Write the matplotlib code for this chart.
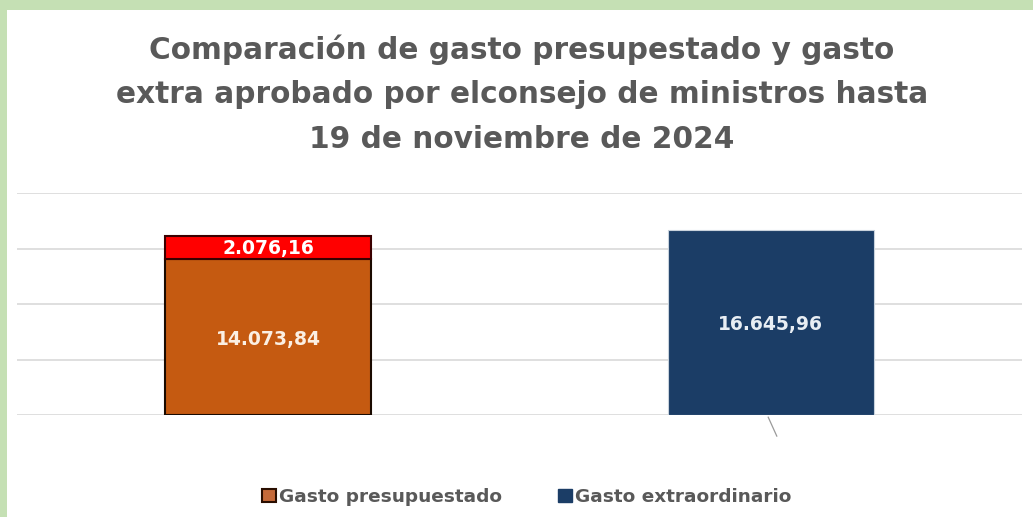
import matplotlib.pyplot as plt
from matplotlib.patches import Rectangle
from matplotlib.lines import Line2D

categorias = ["Presupuestado", "Extraordinario"]
gasto_base = [14073.84, 0]
gasto_extra_aprobado = [2076.16, 0]
gasto_extraordinario = [0, 16645.96]
etiquetas = ["14.073,84", "2.076,16", "16.645,96"]

naranja = "#C55A11"
rojo = "#FF0000"
azul = "#1B3D66"
gris = "#595959"

fig = plt.figure(figsize=(10.33, 5.17), dpi=100, facecolor="white")
# marco verde arriba y a la izquierda
verde = "#C5E0B4"
fig.patches.append(Rectangle((0, 1 - 10 / 517), 1, 10 / 517, transform=fig.transFigure,
                             facecolor=verde, edgecolor="none"))
fig.patches.append(Rectangle((0, 0), 7 / 1033, 1, transform=fig.transFigure,
                             facecolor=verde, edgecolor="none"))

ax = fig.add_axes([17 / 1033, 1 - 415 / 517, 1005 / 1033, 222 / 517])
ax.set_facecolor("none")

x = [0, 1]
ancho = 0.41
ax.bar(x[0], gasto_base[0], ancho, color=naranja, edgecolor="#1a0a00", linewidth=1.5, zorder=3)
ax.bar(x[0], gasto_extra_aprobado[0], ancho, bottom=gasto_base[0], color=rojo,
       edgecolor="#3a0000", linewidth=1.5, zorder=3)
ax.bar(x[1], gasto_extraordinario[1], ancho, color=azul, edgecolor="#c8d2dc", linewidth=0.8, zorder=3)

fuente_dato = {"size": 13.5, "weight": "bold"}
ax.text(x[0], gasto_base[0] / 2 - 250, etiquetas[0], ha="center", va="center", color="#FBEFE3",
        fontdict=fuente_dato, zorder=4)
ax.text(x[0], gasto_base[0] + gasto_extra_aprobado[0] / 2 - 100, etiquetas[1], ha="center",
        va="center", color="white", fontdict=fuente_dato, zorder=4)
ax.text(x[1], gasto_extraordinario[1] / 2 - 150, etiquetas[2], ha="center", va="center",
        color="#E8EEF4", fontdict=fuente_dato, zorder=4)

# pequeña linea guia bajo la barra azul
ax.add_line(Line2D([x[1] - 0.005, x[1] + 0.012], [-200, -1900], color="#9a9a9a", linewidth=0.9,
                   clip_on=False))

ax.set_xlim(-0.5, 1.5)
ax.set_ylim(0, 20000)
ax.set_yticks([0, 5000, 10000, 15000, 20000])
ax.grid(axis="y", color="#d9d9d9", linewidth=1.2, zorder=0)
ax.tick_params(left=False, bottom=False, labelleft=False, labelbottom=False)
for s in ax.spines.values():
    s.set_visible(False)

fig.text(0.505, 1 - 94 / 517, "Comparación de gasto presupestado y gasto\n"
         "extra aprobado por elconsejo de ministros hasta\n19 de noviembre de 2024",
         ha="center", va="center", color=gris, fontsize=21.3, fontweight="bold", linespacing=1.68)

handles = [Rectangle((0, 0), 1, 1, facecolor="#C56A3A", edgecolor="#2a0e00", linewidth=1.5),
           Rectangle((0, 0), 1, 1, facecolor=azul, edgecolor=azul)]
fig.legend(handles, ["Gasto presupuestado", "Gasto extraordinario"], loc="center",
           bbox_to_anchor=(0.51, 1 - 497 / 517), ncol=2, frameon=False, handlelength=0.75,
           handleheight=0.75, handletextpad=0.2, columnspacing=3.0,
           prop={"size": 13.3, "weight": "bold"}, labelcolor=gris)

fig.savefig("out.png", dpi=100, facecolor=fig.get_facecolor())
